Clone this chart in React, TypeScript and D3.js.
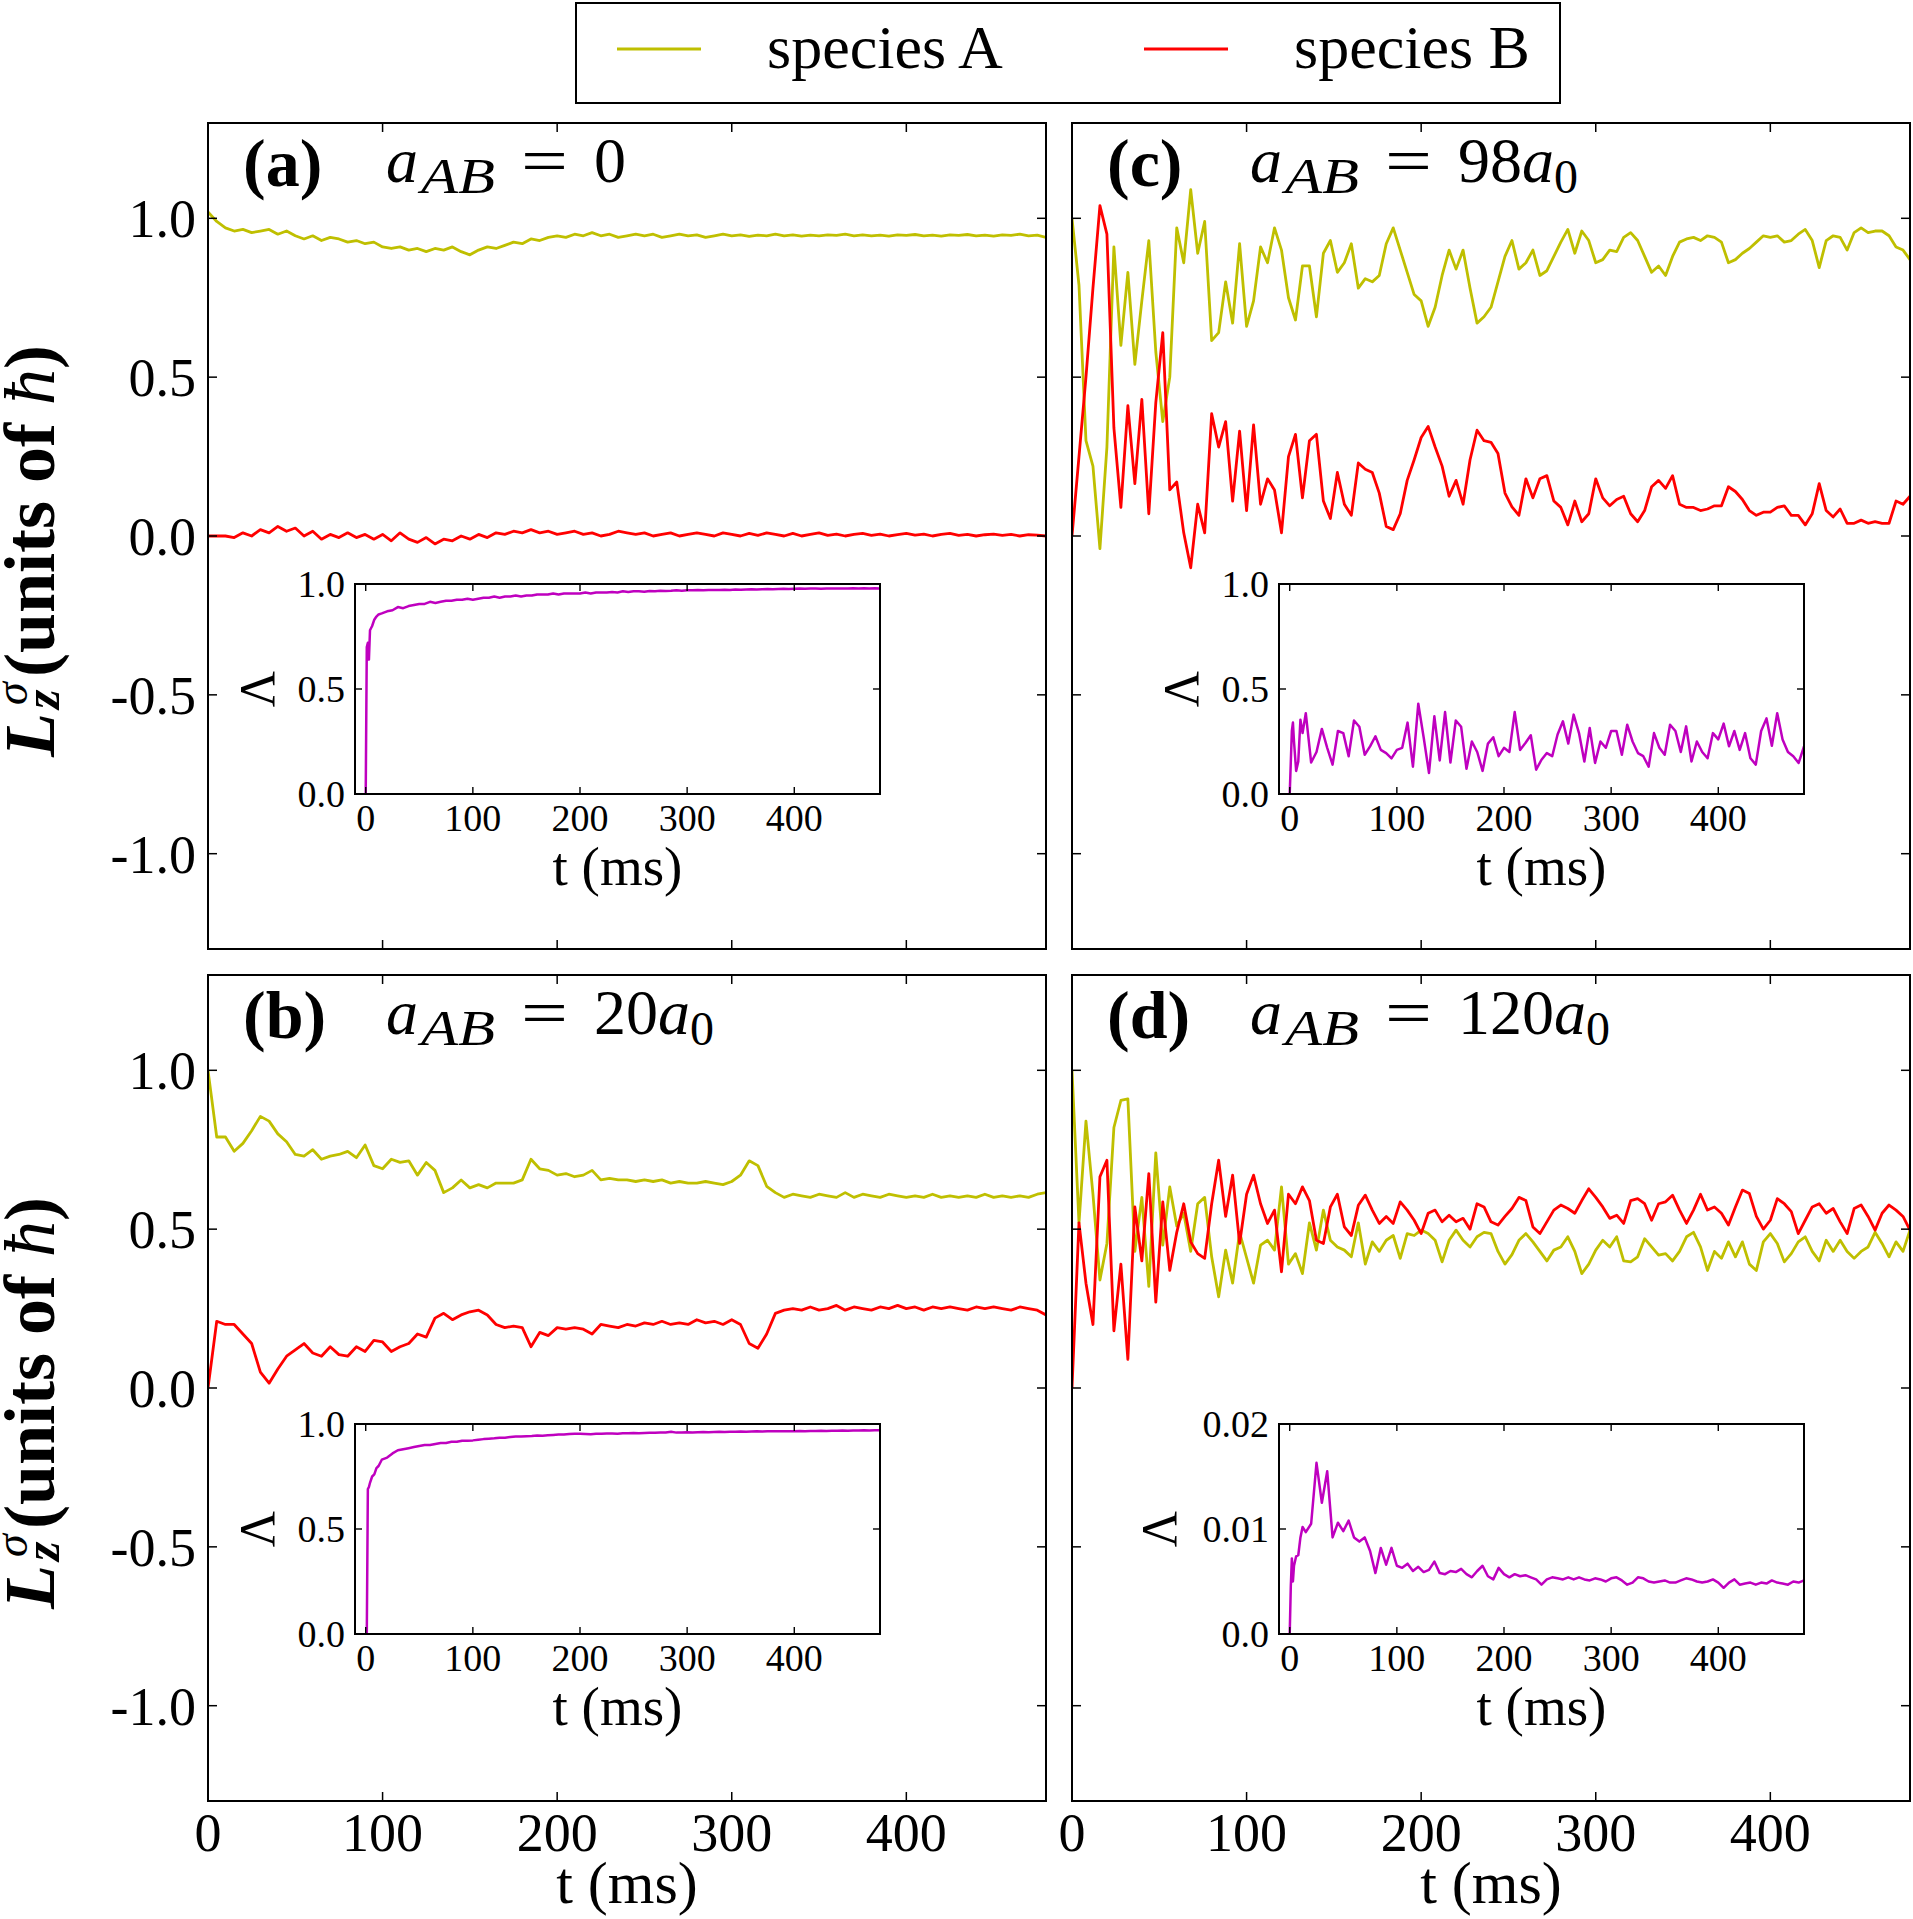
import React from 'react';
import * as d3 from 'd3';

const T_END = 480;

// panel (a), a_AB = 0 : one sample every 5 ms, 0..480
const aSpeciesA = [
  1.02, 0.99, 0.97, 0.96, 0.965, 0.955, 0.96, 0.965, 0.95, 0.96,
  0.945, 0.935, 0.945, 0.93, 0.94, 0.935, 0.925, 0.93, 0.92, 0.925,
  0.91, 0.905, 0.91, 0.9, 0.905, 0.895, 0.905, 0.9, 0.91, 0.895,
  0.885, 0.9, 0.91, 0.905, 0.915, 0.925, 0.92, 0.935, 0.93, 0.94,
  0.945, 0.94, 0.95, 0.945, 0.955, 0.945, 0.95, 0.94, 0.945, 0.95,
  0.945, 0.95, 0.94, 0.945, 0.95, 0.945, 0.948, 0.94, 0.945, 0.95,
  0.945, 0.948, 0.943, 0.947, 0.945, 0.95, 0.945, 0.948, 0.944, 0.947,
  0.945, 0.948, 0.946, 0.95, 0.945, 0.948, 0.945, 0.947, 0.944, 0.948,
  0.946, 0.949, 0.945, 0.947, 0.944, 0.948, 0.946, 0.949, 0.945, 0.947,
  0.944, 0.948, 0.946, 0.95, 0.945, 0.947, 0.94,
];
const aSpeciesB = [
  0, 0, 0, -0.005, 0.01, 0.0, 0.02, 0.01, 0.03, 0.015,
  0.025, 0.0, 0.015, -0.01, 0.005, -0.005, 0.01, -0.005, 0.005, -0.01,
  0.005, -0.015, 0.01, -0.01, -0.02, -0.005, -0.025, -0.01, -0.015, 0.0,
  -0.01, 0.005, -0.005, 0.01, 0.005, 0.015, 0.01, 0.02, 0.01, 0.015,
  0.005, 0.01, 0.015, 0.005, 0.01, 0.0, 0.005, 0.015, 0.01, 0.005,
  0.01, 0.0, 0.005, 0.01, 0.0, 0.005, 0.01, 0.005, 0.0, 0.01,
  0.005, 0.0, 0.008, 0.002, 0.01, 0.005, 0.0, 0.008, 0.0, 0.005,
  0.01, 0.002, 0.006, 0.0, 0.005, 0.008, 0.002, 0.006, 0.0, 0.004,
  0.008, 0.003, 0.006, 0.0, 0.005, 0.008, 0.002, 0.005, 0.0, 0.004,
  0.006, 0.002, 0.005, 0.0, 0.004, 0.003, 0.0,
];

// panel (b), a_AB = 20 a0 : every 5 ms
const bSpeciesA = [
  1.0, 0.79, 0.79, 0.745, 0.77, 0.81, 0.855, 0.84, 0.8, 0.775,
  0.735, 0.73, 0.75, 0.72, 0.73, 0.735, 0.745, 0.725, 0.765, 0.7,
  0.69, 0.72, 0.71, 0.715, 0.67, 0.71, 0.685, 0.615, 0.63, 0.655,
  0.63, 0.64, 0.63, 0.645, 0.645, 0.645, 0.655, 0.72, 0.69, 0.685,
  0.67, 0.675, 0.665, 0.67, 0.685, 0.655, 0.66, 0.655, 0.655, 0.65,
  0.655, 0.65, 0.655, 0.645, 0.65, 0.645, 0.645, 0.65, 0.645, 0.64,
  0.65, 0.67, 0.715, 0.7, 0.635, 0.615, 0.6, 0.61, 0.605, 0.6,
  0.61, 0.605, 0.6, 0.615, 0.6, 0.61, 0.605, 0.6, 0.61, 0.605,
  0.6, 0.605, 0.6, 0.61, 0.6, 0.605, 0.6, 0.605, 0.6, 0.61,
  0.6, 0.605, 0.6, 0.605, 0.6, 0.61, 0.615,
];
const bSpeciesB = [
  0.0, 0.21, 0.2, 0.2, 0.17, 0.14, 0.05, 0.015, 0.06, 0.1,
  0.12, 0.14, 0.11, 0.1, 0.13, 0.105, 0.1, 0.13, 0.115, 0.15,
  0.145, 0.115, 0.13, 0.14, 0.17, 0.16, 0.22, 0.235, 0.215, 0.23,
  0.24, 0.245, 0.23, 0.2, 0.19, 0.195, 0.19, 0.13, 0.175, 0.165,
  0.19, 0.185, 0.19, 0.185, 0.17, 0.2, 0.195, 0.19, 0.2, 0.195,
  0.205, 0.2, 0.21, 0.2, 0.205, 0.2, 0.215, 0.205, 0.21, 0.2,
  0.215, 0.2, 0.14, 0.125, 0.17, 0.235, 0.245, 0.25, 0.245, 0.255,
  0.245, 0.25, 0.26, 0.245, 0.255, 0.25, 0.245, 0.255, 0.25, 0.26,
  0.25, 0.255, 0.245, 0.255, 0.25, 0.255, 0.25, 0.245, 0.255, 0.25,
  0.255, 0.25, 0.245, 0.255, 0.25, 0.245, 0.23,
];

// panel (c), a_AB = 98 a0 : every 4 ms
const cSpeciesA = [
  1.0, 0.79, 0.3, 0.22, -0.04, 0.28, 0.91, 0.6, 0.83, 0.54,
  0.74, 0.93, 0.58, 0.36, 0.5, 0.97, 0.86, 1.09, 0.89, 0.99,
  0.615, 0.64, 0.8, 0.67, 0.92, 0.66, 0.74, 0.91, 0.86, 0.97,
  0.9, 0.75, 0.68, 0.85, 0.85, 0.69, 0.89, 0.93, 0.83, 0.86,
  0.92, 0.78, 0.81, 0.8, 0.82, 0.92, 0.97, 0.9, 0.83, 0.76,
  0.74, 0.66, 0.72, 0.82, 0.9, 0.84, 0.9, 0.78, 0.67, 0.69,
  0.72, 0.8, 0.88, 0.93, 0.84, 0.86, 0.9, 0.82, 0.835, 0.88,
  0.925, 0.965, 0.89, 0.96, 0.93, 0.86, 0.87, 0.9, 0.895, 0.94,
  0.955, 0.93, 0.88, 0.83, 0.85, 0.82, 0.88, 0.925, 0.935, 0.94,
  0.93, 0.945, 0.94, 0.925, 0.86, 0.87, 0.89, 0.905, 0.925, 0.945,
  0.94, 0.945, 0.925, 0.93, 0.95, 0.965, 0.93, 0.845, 0.93, 0.945,
  0.94, 0.9, 0.955, 0.97, 0.955, 0.96, 0.96, 0.945, 0.91, 0.9,
  0.87,
];
const cSpeciesB = [
  0.0, 0.25, 0.5, 0.78, 1.04, 0.95, 0.34, 0.09, 0.41, 0.165,
  0.43, 0.07, 0.42, 0.64, 0.145, 0.17, 0.01, -0.1, 0.1, 0.01,
  0.385, 0.28, 0.36, 0.11, 0.33, 0.08, 0.35, 0.1, 0.18, 0.145,
  0.01, 0.25, 0.32, 0.12, 0.3, 0.32, 0.11, 0.055, 0.2, 0.1,
  0.065, 0.23, 0.21, 0.2, 0.135, 0.03, 0.02, 0.07, 0.175, 0.24,
  0.31, 0.345, 0.28, 0.22, 0.125, 0.175, 0.1, 0.24, 0.333, 0.3,
  0.295, 0.26, 0.135, 0.092, 0.065, 0.18, 0.12, 0.18, 0.19, 0.11,
  0.09, 0.035, 0.11, 0.045, 0.07, 0.18, 0.12, 0.095, 0.115, 0.125,
  0.07, 0.045, 0.08, 0.155, 0.175, 0.15, 0.19, 0.1, 0.09, 0.09,
  0.08, 0.085, 0.095, 0.095, 0.155, 0.14, 0.115, 0.08, 0.065, 0.075,
  0.075, 0.09, 0.095, 0.065, 0.065, 0.035, 0.07, 0.165, 0.08, 0.06,
  0.085, 0.04, 0.04, 0.05, 0.04, 0.045, 0.04, 0.04, 0.11, 0.1,
  0.125,
];

// panel (d), a_AB = 120 a0 : every 4 ms
const dSpeciesA = [
  1.0, 0.52, 0.84, 0.61, 0.34, 0.455, 0.82, 0.905, 0.91, 0.43,
  0.6, 0.32, 0.74, 0.45, 0.633, 0.51, 0.55, 0.43, 0.58, 0.6,
  0.413, 0.287, 0.434, 0.33, 0.49, 0.41, 0.33, 0.45, 0.465, 0.434,
  0.633, 0.39, 0.423, 0.36, 0.52, 0.434, 0.56, 0.465, 0.444, 0.434,
  0.413, 0.52, 0.39, 0.46, 0.43, 0.465, 0.48, 0.408, 0.486, 0.48,
  0.497, 0.486, 0.465, 0.397, 0.465, 0.497, 0.465, 0.444, 0.476, 0.49,
  0.486, 0.43, 0.39, 0.42, 0.465, 0.486, 0.46, 0.43, 0.4, 0.434,
  0.444, 0.476, 0.43, 0.36, 0.39, 0.434, 0.465, 0.444, 0.476, 0.4,
  0.397, 0.413, 0.47, 0.444, 0.418, 0.423, 0.4, 0.43, 0.476, 0.49,
  0.444, 0.37, 0.43, 0.408, 0.46, 0.413, 0.46, 0.39, 0.37, 0.46,
  0.486, 0.455, 0.397, 0.423, 0.46, 0.476, 0.43, 0.4, 0.465, 0.43,
  0.465, 0.43, 0.408, 0.43, 0.444, 0.49, 0.455, 0.413, 0.46, 0.43,
  0.497,
];
const dSpeciesB = [
  0.0, 0.52, 0.33, 0.2, 0.665, 0.717, 0.18, 0.39, 0.09, 0.57,
  0.4, 0.675, 0.27, 0.586, 0.37, 0.49, 0.58, 0.46, 0.423, 0.408,
  0.58, 0.717, 0.54, 0.67, 0.455, 0.61, 0.67, 0.58, 0.518, 0.56,
  0.366, 0.61, 0.58, 0.633, 0.59, 0.465, 0.455, 0.57, 0.61, 0.507,
  0.48, 0.575, 0.607, 0.56, 0.518, 0.54, 0.518, 0.586, 0.56, 0.528,
  0.486, 0.55, 0.56, 0.523, 0.544, 0.523, 0.534, 0.5, 0.58, 0.57,
  0.523, 0.513, 0.54, 0.565, 0.6, 0.59, 0.507, 0.486, 0.523, 0.56,
  0.576, 0.565, 0.55, 0.59, 0.627, 0.6, 0.57, 0.534, 0.544, 0.518,
  0.59, 0.596, 0.58, 0.528, 0.58, 0.586, 0.607, 0.56, 0.518, 0.56,
  0.61, 0.56, 0.57, 0.55, 0.513, 0.57, 0.623, 0.612, 0.54, 0.5,
  0.528, 0.596, 0.58, 0.555, 0.486, 0.528, 0.57, 0.58, 0.55, 0.565,
  0.523, 0.486, 0.565, 0.576, 0.54, 0.497, 0.55, 0.576, 0.56, 0.54,
  0.497,
];

// insets, Lambda(t): first ten samples at lamEarlyT, then every 5 ms from 20 to 480
const lamEarlyT = [0, 1, 2, 3, 4, 6, 8, 10, 12, 15];
const lamEarlyA = [0, 0.7, 0.72, 0.64, 0.78, 0.8, 0.83, 0.845, 0.855, 0.86];
const lamRestA = [
  0.87, 0.875, 0.89, 0.885, 0.895, 0.9, 0.905, 0.905, 0.915, 0.91,
  0.915, 0.92, 0.92, 0.925, 0.925, 0.93, 0.925, 0.93, 0.935, 0.935,
  0.94, 0.935, 0.94, 0.94, 0.945, 0.94, 0.945, 0.945, 0.95, 0.95,
  0.95, 0.955, 0.95, 0.955, 0.955, 0.955, 0.955, 0.96, 0.955, 0.96,
  0.96, 0.96, 0.962, 0.96, 0.965, 0.962, 0.965, 0.965, 0.963, 0.967,
  0.966, 0.968, 0.967, 0.968, 0.97, 0.968, 0.97, 0.97, 0.971, 0.97,
  0.972, 0.971, 0.972, 0.973, 0.972, 0.974, 0.973, 0.974, 0.975, 0.974,
  0.975, 0.976, 0.975, 0.976, 0.977, 0.976, 0.977, 0.978, 0.977, 0.978,
  0.978, 0.977, 0.979, 0.978, 0.979, 0.978, 0.979, 0.98, 0.979, 0.98,
  0.979, 0.98, 0.979,
];
const lamEarlyB = [0, 0, 0.69, 0.7, 0.72, 0.75, 0.76, 0.79, 0.8, 0.83];
const lamRestB = [
  0.84, 0.86, 0.875, 0.88, 0.885, 0.89, 0.895, 0.9, 0.9, 0.905,
  0.91, 0.91, 0.915, 0.915, 0.92, 0.92, 0.922, 0.925, 0.928, 0.93,
  0.932, 0.935, 0.935, 0.938, 0.94, 0.94, 0.942, 0.943, 0.945, 0.944,
  0.946, 0.948, 0.95, 0.95, 0.952, 0.953, 0.953, 0.952, 0.951, 0.953,
  0.954, 0.955, 0.955, 0.954, 0.956, 0.956, 0.957, 0.956, 0.957, 0.958,
  0.958, 0.959, 0.96, 0.963, 0.959, 0.96, 0.961, 0.96, 0.961, 0.962,
  0.961, 0.962, 0.963, 0.962, 0.963, 0.963, 0.964, 0.963, 0.964, 0.965,
  0.964, 0.965, 0.965, 0.966, 0.965, 0.966, 0.966, 0.967, 0.966, 0.967,
  0.967, 0.968, 0.967, 0.968, 0.968, 0.969, 0.968, 0.969, 0.969, 0.97,
  0.969, 0.97, 0.97,
];
const lamEarlyC = [0, 0.15, 0.3, 0.34, 0.25, 0.11, 0.155, 0.354, 0.29, 0.385];
const lamRestC = [
  0.15, 0.2, 0.31, 0.22, 0.14, 0.3, 0.29, 0.18, 0.35, 0.32,
  0.187, 0.227, 0.275, 0.21, 0.195, 0.17, 0.21, 0.22, 0.34, 0.13,
  0.43, 0.27, 0.1, 0.37, 0.16, 0.39, 0.15, 0.35, 0.32, 0.12,
  0.25, 0.2, 0.11, 0.24, 0.27, 0.18, 0.22, 0.2, 0.39, 0.21,
  0.243, 0.28, 0.116, 0.163, 0.195, 0.18, 0.283, 0.346, 0.24, 0.378,
  0.29, 0.155, 0.314, 0.148, 0.25, 0.22, 0.3, 0.3, 0.187, 0.33,
  0.25, 0.195, 0.18, 0.13, 0.29, 0.22, 0.187, 0.33, 0.3, 0.2,
  0.322, 0.155, 0.25, 0.2, 0.17, 0.29, 0.26, 0.335, 0.227, 0.3,
  0.21, 0.29, 0.17, 0.14, 0.3, 0.36, 0.23, 0.385, 0.26, 0.2,
  0.18, 0.148, 0.227,
];
const lamEarlyD = [0, 0.0045, 0.0072, 0.005, 0.0065, 0.0074, 0.0075, 0.0092, 0.0102, 0.0097];
const lamRestD = [
  0.0105, 0.0163, 0.0125, 0.0155, 0.0092, 0.0106, 0.0098, 0.0108, 0.0092, 0.0088,
  0.0092, 0.0079, 0.0058, 0.0082, 0.0066, 0.0082, 0.0065, 0.0063, 0.0067, 0.006,
  0.0064, 0.0059, 0.0061, 0.0069, 0.0058, 0.0057, 0.006, 0.0059, 0.0062, 0.0057,
  0.0054, 0.006, 0.0065, 0.0055, 0.0052, 0.0063, 0.0057, 0.0054, 0.0057, 0.0055,
  0.0056, 0.0054, 0.0052, 0.0047, 0.0052, 0.0054, 0.0053, 0.0052, 0.0054, 0.0052,
  0.0054, 0.0052, 0.0051, 0.0053, 0.0052, 0.005, 0.0053, 0.0054, 0.0051, 0.0047,
  0.0049, 0.0054, 0.0053, 0.005, 0.0049, 0.005, 0.0051, 0.0049, 0.0049, 0.0051,
  0.0053, 0.0052, 0.005, 0.0049, 0.005, 0.0052, 0.0049, 0.0044, 0.0049, 0.0052,
  0.0047, 0.0048, 0.0049, 0.0047, 0.0049, 0.0048, 0.0051, 0.0049, 0.0048, 0.0047,
  0.005, 0.0049, 0.0051,
];

const timeTicks = [0, 100, 200, 300, 400];
const lzTicks = [-1, -0.5, 0, 0.5, 1];
const lzTickLabels = ['-1.0', '-0.5', '0.0', '0.5', '1.0'];
const lamTicks = [0, 0.5, 1];
const lamTickLabels = ['0.0', '0.5', '1.0'];
const lamTicksSmall = [0, 0.01, 0.02];
const lamTickLabelsSmall = ['0.0', '0.01', '0.02'];

const COLORS = { A: '#bfbf00', B: '#ff0000', lam: '#bf00bf' };
const FONT = '"Liberation Serif", "Times New Roman", serif';

// layout (px)
const COL_X = [208, 1072];
const ROW_Y = [123, 975];
const PW = 838;
const PH = 826;
const INSET_X = [355, 1279];
const INSET_Y = [584, 1424];
const IW = 525;
const IH = 210;

type Pt = [number, number];

const spread = (vals: number[], t0: number, t1: number): Pt[] =>
  vals.map((v, i) => [t0 + (i * (t1 - t0)) / (vals.length - 1), v] as Pt);

const lamSeries = (early: number[], rest: number[]): Pt[] => [
  ...early.map((v, i) => [lamEarlyT[i], v] as Pt),
  ...spread(rest, 20, T_END),
];

const panels = [
  { key: 'a', col: 0, row: 0, tag: '(a)', coef: '0', withA0: false, A: aSpeciesA, B: aSpeciesB,
    lam: lamSeries(lamEarlyA, lamRestA), lamMax: 1, lTicks: lamTicks, lLabels: lamTickLabels, lamLabelGap: 81 },
  { key: 'b', col: 0, row: 1, tag: '(b)', coef: '20', withA0: true, A: bSpeciesA, B: bSpeciesB,
    lam: lamSeries(lamEarlyB, lamRestB), lamMax: 1, lTicks: lamTicks, lLabels: lamTickLabels, lamLabelGap: 81 },
  { key: 'c', col: 1, row: 0, tag: '(c)', coef: '98', withA0: true, A: cSpeciesA, B: cSpeciesB,
    lam: lamSeries(lamEarlyC, lamRestC), lamMax: 1, lTicks: lamTicks, lLabels: lamTickLabels, lamLabelGap: 81 },
  { key: 'd', col: 1, row: 1, tag: '(d)', coef: '120', withA0: true, A: dSpeciesA, B: dSpeciesB,
    lam: lamSeries(lamEarlyD, lamRestD), lamMax: 0.02, lTicks: lamTicksSmall, lLabels: lamTickLabelsSmall, lamLabelGap: 103 },
];

type PanelSpec = (typeof panels)[number];

function Inset({ p }: { p: PanelSpec }) {
  const left = INSET_X[p.col];
  const top = INSET_Y[p.row];
  const right = left + IW;
  const bottom = top + IH;
  const x = d3.scaleLinear().domain([-10, T_END]).range([left, right]);
  const y = d3.scaleLinear().domain([0, p.lamMax]).range([bottom, top]);
  const line = d3.line<Pt>().x(d => x(d[0])).y(d => y(d[1]));
  const clipId = `inset-clip-${p.key}`;
  return (
    <g>
      <rect x={left} y={top} width={IW} height={IH} fill="white" />
      <defs>
        <clipPath id={clipId}>
          <rect x={left} y={top} width={IW} height={IH} />
        </clipPath>
      </defs>
      <path d={line(p.lam) ?? ''} fill="none" stroke={COLORS.lam} strokeWidth={2.5}
        strokeLinejoin="round" clipPath={`url(#${clipId})`} />
      <rect x={left} y={top} width={IW} height={IH} fill="none" stroke="black" strokeWidth={2} />
      <g stroke="black" strokeWidth={1.4}>
        {timeTicks.map(t => (
          <g key={t}>
            <line x1={x(t)} x2={x(t)} y1={bottom} y2={bottom - 7} />
            <line x1={x(t)} x2={x(t)} y1={top} y2={top + 7} />
          </g>
        ))}
        {p.lTicks.map(v => (
          <g key={v}>
            <line x1={left} x2={left + 7} y1={y(v)} y2={y(v)} />
            <line x1={right} x2={right - 7} y1={y(v)} y2={y(v)} />
          </g>
        ))}
      </g>
      {timeTicks.map(t => (
        <text key={t} x={x(t)} y={bottom + 37} textAnchor="middle" fontSize={38}>{t}</text>
      ))}
      {p.lTicks.map((v, i) => (
        <text key={v} x={left - 10} y={y(v)} dy="0.35em" textAnchor="end" fontSize={38}>{p.lLabels[i]}</text>
      ))}
      <text x={(left + right) / 2} y={bottom + 91} textAnchor="middle" fontSize={55}>t (ms)</text>
      <text transform={`translate(${left - p.lamLabelGap}, ${(top + bottom) / 2}) rotate(-90)`}
        textAnchor="middle" fontSize={50}>Λ</text>
    </g>
  );
}

function Panel({ p }: { p: PanelSpec }) {
  const left = COL_X[p.col];
  const top = ROW_Y[p.row];
  const right = left + PW;
  const bottom = top + PH;
  const x = d3.scaleLinear().domain([0, T_END]).range([left, right]);
  const y = d3.scaleLinear().domain([-1.3, 1.3]).range([bottom, top]);
  const line = d3.line<Pt>().x(d => x(d[0])).y(d => y(d[1]));
  const clipId = `clip-${p.key}`;

  return (
    <g>
      <defs>
        <clipPath id={clipId}>
          <rect x={left} y={top} width={PW} height={PH} />
        </clipPath>
      </defs>
      <g clipPath={`url(#${clipId})`} fill="none" strokeWidth={2.8} strokeLinejoin="round">
        <path d={line(spread(p.A, 0, T_END)) ?? ''} stroke={COLORS.A} />
        <path d={line(spread(p.B, 0, T_END)) ?? ''} stroke={COLORS.B} />
      </g>
      <rect x={left} y={top} width={PW} height={PH} fill="none" stroke="black" strokeWidth={2} />
      <g stroke="black" strokeWidth={1.5}>
        {timeTicks.map(t => (
          <g key={t}>
            <line x1={x(t)} x2={x(t)} y1={bottom} y2={bottom - 9} />
            <line x1={x(t)} x2={x(t)} y1={top} y2={top + 9} />
          </g>
        ))}
        {lzTicks.map(v => (
          <g key={v}>
            <line x1={left} x2={left + 9} y1={y(v)} y2={y(v)} />
            <line x1={right} x2={right - 9} y1={y(v)} y2={y(v)} />
          </g>
        ))}
      </g>

      {p.col === 0 && lzTicks.map((v, i) => (
        <text key={v} x={left - 12} y={y(v)} dy="0.35em" textAnchor="end" fontSize={54}>{lzTickLabels[i]}</text>
      ))}
      {p.row === 1 && timeTicks.map(t => (
        <text key={t} x={x(t)} y={bottom + 50} textAnchor="middle" fontSize={54}>{t}</text>
      ))}
      {p.row === 1 && (
        <text x={(left + right) / 2} y={bottom + 102} textAnchor="middle" fontSize={60}>t (ms)</text>
      )}

      {/* panel tag and interaction strength */}
      <text x={left + 35} y={top + 63} fontSize={68} fontWeight="bold">{p.tag}</text>
      <text x={left + 178} y={top + 59} fontSize={64}>
        <tspan fontStyle="italic">a</tspan>
        <tspan x={left + 213} dy={11} fontSize={50} fontStyle="italic"
          textLength={74} lengthAdjust="spacingAndGlyphs">AB</tspan>
        <tspan x={left + 313} dy={-11} textLength={47} lengthAdjust="spacingAndGlyphs">=</tspan>
        <tspan x={left + 386}>{p.coef}</tspan>
        {p.withA0 && <tspan fontStyle="italic">a</tspan>}
        {p.withA0 && <tspan dy={11} fontSize={48}>0</tspan>}
      </text>

      <Inset p={p} />
    </g>
  );
}

function LzLabel({ top }: { top: number }) {
  return (
    <text transform={`translate(54, ${top + 634}) rotate(-90)`} fontSize={72}>
      <tspan fontWeight="bold" fontStyle="italic">L</tspan>
      <tspan x={48} dy={5} fontSize={50} fontWeight="bold" fontStyle="italic">z</tspan>
      <tspan x={52} dy={-32} fontSize={46} fontStyle="italic">σ</tspan>
      <tspan x={80} dy={27} fontWeight="bold">(units of </tspan>
      <tspan fontStyle="italic">ħ</tspan>
      <tspan fontWeight="bold">)</tspan>
    </text>
  );
}

function Legend() {
  const items = [
    { label: 'species A', color: COLORS.A, x: 617 },
    { label: 'species B', color: COLORS.B, x: 1144 },
  ];
  return (
    <g>
      <rect x={576} y={3} width={984} height={100} fill="white" stroke="black" strokeWidth={2} />
      {items.map(it => (
        <g key={it.label}>
          <line x1={it.x} x2={it.x + 84} y1={49} y2={49} stroke={it.color} strokeWidth={3} />
          <text x={it.x + 150} y={68} fontSize={62}>{it.label}</text>
        </g>
      ))}
    </g>
  );
}

export default function App() {
  return (
    <svg width={1913} height={1919} style={{ position: 'absolute', left: 0, top: 0 }}
      fontFamily={FONT} fill="black">
      <rect x={0} y={0} width={1913} height={1919} fill="white" />
      <Legend />
      {panels.map(p => <Panel key={p.key} p={p} />)}
      {ROW_Y.map(top => <LzLabel key={top} top={top} />)}
    </svg>
  );
}
